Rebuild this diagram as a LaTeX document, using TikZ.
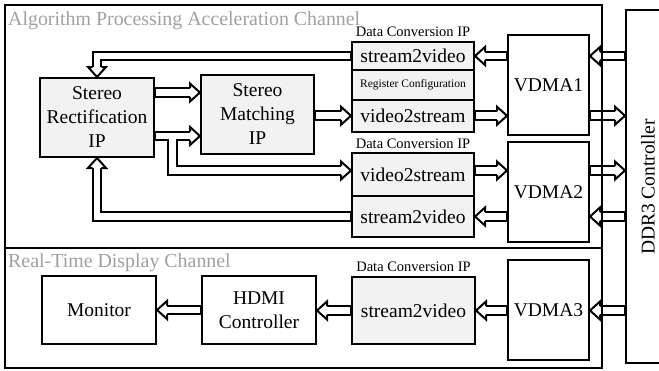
\documentclass[tikz,border=0pt]{standalone}
\usepackage{fontspec}
\setmainfont{Liberation Serif}
\definecolor{boxgray}{RGB}{242,242,242}
\definecolor{titlegray}{RGB}{160,160,160}
\tikzset{
  hhead/.pic={
    \fill[white] (-10,-9) -- (0,0) -- (-10,9) -- cycle;
    \draw[line width=2pt, line join=miter] (-10,-4.3) -- (-10,-9) -- (0,0) -- (-10,9) -- (-10,4.3);
  }
}
\newcommand\myshafts[1]{%
  \draw[#1] (rect.east |- m1) -- (m1);
  \draw[#1] (rect.east |- m2) -- (m2);
  \draw[#1] (rect.east |- m2) -| (bx |- r2) -- (r2);
  \draw[#1] (match.east |- v2s1.west) -- (v2s1.west);
  \draw[#1] (s2v1.west) -| (rect.north);
  \draw[#1] (s2v2.west) -| (rect.south);
  \draw[#1] (vdma1.west |- s2v1.east) -- (s2v1.east);
  \draw[#1] (v2s1.east) -- (vdma1.west |- v2s1.east);
  \draw[#1] (vdma2.west |- s2v2.east) -- (s2v2.east);
  \draw[#1] (r2 -| v2s2.east) -- (r2 -| vdma2.west);
  \draw[#1] (ddr.west |- s2v1.east) -- (vdma1.east |- s2v1.east);
  \draw[#1] (vdma1.east |- v2s1.east) -- (ddr.west |- v2s1.east);
  \draw[#1] (vdma2.east |- r2) -- (ddr.west |- r2);
  \draw[#1] (ddr.west |- s2v2.east) -- (vdma2.east |- s2v2.east);
  \draw[#1] (ddr.west |- s2v3.east) -- (vdma3.east |- s2v3.east);
  \draw[#1] (vdma3.west |- s2v3.east) -- (s2v3.east);
  \draw[#1] (s2v3.west) -- (hdmi.east |- s2v3.west);
  \draw[#1] (hdmi.west) -- (mon.east |- hdmi.west);
}
\begin{document}
\begin{tikzpicture}[x=1pt,y=-1pt,
  font=\fontsize{19.5}{24}\selectfont,
  ipbox/.style={draw, line width=2pt, fill=boxgray, inner sep=0pt, align=center},
  plainbox/.style={draw, line width=2pt, fill=white, inner sep=0pt, align=center},
  outer/.style={draw=black, line width=10.6pt, line join=miter, shorten >=10pt},
  inner/.style={draw=white, line width=6.6pt, line join=miter, shorten >=10pt, shorten <=1pt},
  dcip/.style={font=\fontsize{14.5}{16}\selectfont, anchor=base, inner sep=0pt},
  chtitle/.style={text=titlegray, anchor=base west, inner sep=0pt, font=\fontsize{19.9}{24}\selectfont},
  frame/.style={line width=1.6pt}]
\useasboundingbox (0,0) rectangle (659,370);

% boxes
\node[ipbox, minimum width=114pt, minimum height=79pt] (rect) at (97,117.5) {Stereo\\Rectification\\IP};
\node[ipbox, minimum width=113pt, minimum height=79pt] (match) at (257.5,114.5) {Stereo\\Matching\\IP};
\node[ipbox, minimum width=122pt, minimum height=28pt] (s2v1) at (413,56) {stream2video};
\node[ipbox, minimum width=122pt, minimum height=30pt, font=\fontsize{11.5}{13}\selectfont] (reg) at (413,85) {Register Configuration};
\node[ipbox, minimum width=122pt, minimum height=31.5pt] (v2s1) at (413,115.75) {video2stream};
\node[plainbox, minimum width=81pt, minimum height=100pt] (vdma1) at (548.5,85) {VDMA1};
\node[ipbox, minimum width=122pt, minimum height=43pt] (v2s2) at (413,174.5) {video2stream};
\node[ipbox, minimum width=122pt, minimum height=41pt] (s2v2) at (413,216.5) {stream2video};
\node[plainbox, minimum width=81pt, minimum height=100pt] (vdma2) at (548.5,192) {VDMA2};
\node[ipbox, minimum width=123pt, minimum height=67pt] (s2v3) at (413.5,310.5) {stream2video};
\node[plainbox, minimum width=81pt, minimum height=100pt] (vdma3) at (548.5,310) {VDMA3};
\node[plainbox, minimum width=114pt, minimum height=68pt] (mon) at (99,310) {Monitor};
\node[plainbox, minimum width=114pt, minimum height=68pt] (hdmi) at (259,310) {HDMI\\Controller};
\node[draw, line width=2pt, inner sep=0pt, minimum width=38pt, minimum height=353pt] (ddr) at (645,186.5) {};
\node[rotate=90, inner sep=0pt] (ddrtext) at (648,187) {DDR3 Controller};

% labels
\node[dcip] (dc1) at ([yshift=5pt]s2v1.north) {Data Conversion IP};
\node[dcip] (dc2) at ([yshift=3.5pt]v2s2.north) {Data Conversion IP};
\node[dcip] (dc3) at ([yshift=4.5pt]s2v3.north) {Data Conversion IP};

% helper coordinates
\coordinate (m1) at ([yshift=22pt]match.west);
\coordinate (m2) at ([yshift=-21.5pt]match.west);
\coordinate (r2) at ([yshift=4pt]v2s2.west);
\coordinate (bx) at (172.5,0);

% hollow arrows
\myshafts{outer}
\myshafts{inner}
\pic at (m1) {hhead};
\pic at (m2) {hhead};
\pic at (r2) {hhead};
\pic at (v2s1.west) {hhead};
\pic[rotate=-90] at (rect.north) {hhead};
\pic[rotate=90] at (rect.south) {hhead};
\pic[rotate=180] at (s2v1.east) {hhead};
\pic at (vdma1.west |- v2s1.east) {hhead};
\pic[rotate=180] at (s2v2.east) {hhead};
\pic at (r2 -| vdma2.west) {hhead};
\pic[rotate=180] at (vdma1.east |- s2v1.east) {hhead};
\pic at (ddr.west |- v2s1.east) {hhead};
\pic at (ddr.west |- r2) {hhead};
\pic[rotate=180] at (vdma2.east |- s2v2.east) {hhead};
\pic[rotate=180] at (vdma3.east |- s2v3.east) {hhead};
\pic[rotate=180] at (s2v3.east) {hhead};
\pic[rotate=180] at (hdmi.east |- s2v3.west) {hhead};
\pic[rotate=180] at (mon.east |- hdmi.west) {hhead};

% channel frames
\draw[frame] (5,5) rectangle (602,368);
\draw[frame] (5,248) -- (602,248);
\node[chtitle] (t1) at (8,25) {Algorithm Processing Acceleration Channel};
\node[chtitle] (t2) at (8,267.5) {Real-Time Display Channel};
\end{tikzpicture}
\end{document}
